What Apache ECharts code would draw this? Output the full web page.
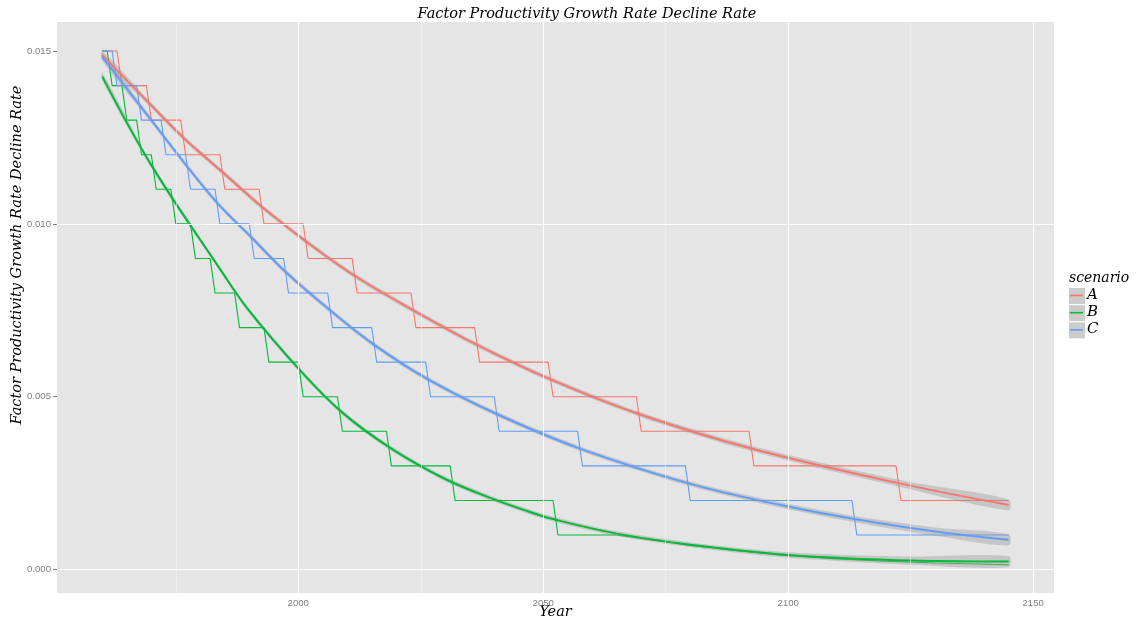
<!DOCTYPE html>
<html>
<head>
<meta charset="utf-8">
<script src="https://cdn.jsdelivr.net/npm/echarts@6/dist/echarts.min.js"></script>
<style>
html,body{margin:0;padding:0;background:#fff;}
#chart{width:1140px;height:623px;}
</style>
</head>
<body>
<div id="chart"></div>
<script>
// ---------------- DATA ----------------
const titleText = 'Factor Productivity Growth Rate Decline Rate';
const xTitle = 'Year';
const yTitle = 'Factor Productivity Growth Rate Decline Rate';
const legendTitle = 'scenario';
const scenarios = ['A', 'B', 'C'];

const xTicks = [2000, 2050, 2100, 2150];
const xMinor = [1975, 2025, 2075, 2125];
const yTicks = [0.000, 0.005, 0.010, 0.015];
const yMinor = [0.0025, 0.0075, 0.0125];

// step series: level values and the first year of each level
const levelsA = [0.015,0.014,0.013,0.012,0.011,0.010,0.009,0.008,0.007,0.006,0.005,0.004,0.003,0.002];
const startsA = [1960,1964,1970,1977,1985,1993,2002,2012,2024,2037,2052,2070,2093,2123];
const endA = 2145;

const levelsB = [0.015,0.014,0.013,0.012,0.011,0.010,0.009,0.008,0.007,0.006,0.005,0.004,0.003,0.002,0.001];
const startsB = [1960,1962,1965,1968,1971,1975,1979,1983,1988,1994,2001,2009,2019,2032,2053];
const endB = 2065;
const tailYearsB  = [2070,2080,2090,2100,2110,2120,2130,2145];
const tailValuesB = [0.0009,0.0007,0.00054,0.0004,0.00031,0.00024,0.00019,0.00014];

const levelsC = [0.015,0.014,0.013,0.012,0.011,0.010,0.009,0.008,0.007,0.006,0.005,0.004,0.003,0.002,0.001];
const startsC = [1960,1963,1968,1973,1978,1984,1991,1998,2007,2016,2027,2041,2058,2080,2114];
const endC = 2145;

// smoothed (loess) curves, read at points along each curve, with half-width of their confidence band
const smoothYearsA = [1960,1969.5,1976.5,1984.5,1992.5,2001.5,2011.5,2023.5,2036.5,2051.5,2069.5,2092.5,2122.5,2145];
const smoothA      = [0.01488,0.0135,0.0125,0.0115,0.0105,0.0095,0.0085,0.0075,0.0065,0.0055,0.0045,0.0035,0.0025,0.00187];
const bandA        = [0.00012,0.00008,0.00007,0.00007,0.00007,0.00007,0.00007,0.00007,0.00007,0.00007,0.00007,0.00008,0.0001,0.00016];

const smoothYearsB = [1960,1970,1984,1990,2000,2009,2019,2030,2040,2047,2052,2065,2081,2098,2110,2125,2145];
const smoothB      = [0.01426,0.0117,0.0087,0.00748,0.00582,0.00454,0.0035,0.00262,0.00203,0.00168,0.00146,0.00104,0.0007,0.00044,0.00034,0.00026,0.00023];
const bandB        = [0.00012,0.00008,0.00007,0.00007,0.00007,0.00007,0.00007,0.00007,0.00007,0.00007,0.00007,0.00007,0.00007,0.00008,0.00009,0.00012,0.00016];

const smoothYearsC = [1960,1970,1976.6,1983.5,1990.5,1997.5,2006.5,2015.5,2026.5,2040.5,2057.5,2079.5,2098,2113.5,2130,2145];
const smoothC      = [0.01483,0.013,0.01179,0.0106,0.0096,0.0086,0.0075,0.0065,0.0055,0.0045,0.0035,0.0025,0.00188,0.00146,0.0011,0.00086];
const bandC        = [0.00012,0.00008,0.00007,0.00007,0.00007,0.00007,0.00007,0.00007,0.00007,0.00007,0.00007,0.00007,0.00008,0.00009,0.00012,0.00016];

// ---------------- BUILD ----------------
const colors = ['#F8766D', '#00BA38', '#619CFF'];
const serif = '"DejaVu Serif", serif';
const sans = '"Liberation Sans", Arial, sans-serif';

function buildSteps(levels, starts, lastYear) {
  const pts = [];
  for (let i = 0; i < levels.length; i++) {
    const s = starts[i];
    const e = (i + 1 < starts.length) ? starts[i + 1] - 1 : lastYear;
    pts.push([s, levels[i]]);
    if (e !== s) pts.push([e, levels[i]]);
  }
  return pts;
}
const stepA = buildSteps(levelsA, startsA, endA);
const stepB = buildSteps(levelsB, startsB, endB).concat(tailYearsB.map((y, i) => [y, tailValuesB[i]]));
const stepC = buildSteps(levelsC, startsC, endC);
const steps = [stepA, stepB, stepC];
const smoothYears = [smoothYearsA, smoothYearsB, smoothYearsC];
const smooths = [smoothA, smoothB, smoothC];
const bands = [bandA, bandB, bandC];

const xMin = 1950.75, xMax = 2154.25;
const yMin = -0.000678, yMax = 0.01584;

const majorStyle = {color: '#FFFFFF', width: 1.1, type: 'solid'};
const minorStyle = {color: '#F2F2F2', width: 0.6, type: 'solid'};
const gridLines = []
  .concat(xMinor.map(v => ({xAxis: v, lineStyle: minorStyle})))
  .concat(yMinor.map(v => ({yAxis: v, lineStyle: minorStyle})))
  .concat(xTicks.filter(v => v <= xMax).map(v => ({xAxis: v, lineStyle: majorStyle})))
  .concat(yTicks.map(v => ({yAxis: v, lineStyle: majorStyle})));

const series = [{
  type: 'line', data: [], z: 1, silent: true,
  markLine: {silent: true, symbol: ['none', 'none'], label: {show: false}, animation: false, data: gridLines}
}];

scenarios.forEach((name, k) => {
  series.push({
    name: name, type: 'line', data: steps[k], z: 2, symbol: 'none', silent: true,
    lineStyle: {color: colors[k], width: 1.1}
  });
});

// confidence bands drawn through the axes' scales
series.push({
  type: 'custom', coordinateSystem: 'cartesian2d', z: 3, silent: true,
  data: scenarios.map((n, k) => [k]),
  renderItem: function (params, api) {
    const k = api.value(0);
    const ys = smoothYears[k];
    const upper = ys.map((y, i) => api.coord([y, smooths[k][i] + bands[k][i]]));
    const lower = ys.map((y, i) => api.coord([y, smooths[k][i] - bands[k][i]])).reverse();
    return {
      type: 'polygon',
      shape: {points: upper.concat(lower), smooth: 0.3},
      style: {fill: '#999999', opacity: 0.4}
    };
  }
});

scenarios.forEach((name, k) => {
  series.push({
    type: 'line', z: 4, symbol: 'none', smooth: 0.4, silent: true,
    data: smoothYears[k].map((y, i) => [y, smooths[k][i]]),
    lineStyle: {color: colors[k], width: 2}
  });
});

// legend drawn with graphic elements from the scenario list
const legendEls = [{
  type: 'text', left: 1069, top: 271,
  style: {text: legendTitle, font: 'italic 14px ' + serif, fill: '#000'}
}];
scenarios.forEach((name, k) => {
  const top = 287 + k * 17.2;
  legendEls.push({type: 'rect', left: 1068, top: top, shape: {width: 17, height: 17},
    style: {fill: '#CBCBCB', stroke: '#FFFFFF', lineWidth: 1}});
  legendEls.push({type: 'line', shape: {x1: 1070, y1: top + 8.5, x2: 1083, y2: top + 8.5},
    style: {stroke: colors[k], lineWidth: 1.6}});
  legendEls.push({type: 'text', left: 1087, top: top + 0.5,
    style: {text: name, font: 'italic 15px ' + serif, fill: '#000'}});
});
// axis titles
legendEls.push({
  type: 'text', x: 17, y: 255, rotation: Math.PI / 2,
  style: {text: yTitle, font: 'italic 14.5px ' + serif, fill: '#000', align: 'center', verticalAlign: 'middle'}
});
legendEls.push({
  type: 'text', x: 555.5, y: 612,
  style: {text: xTitle, font: 'italic 14.5px ' + serif, fill: '#000', align: 'center', verticalAlign: 'middle'}
});

const chart = echarts.init(document.getElementById('chart'), null, {renderer: 'canvas'});
chart.setOption({
  animation: false,
  backgroundColor: '#FFFFFF',
  title: {
    text: titleText, left: 582, top: 2, textAlign: 'center',
    textStyle: {fontFamily: serif, fontStyle: 'italic', fontWeight: 'normal', fontSize: 14.5, color: '#000'}
  },
  grid: {left: 57, right: 86, top: 22, bottom: 30, show: true, backgroundColor: '#E5E5E5', borderWidth: 0,
    containLabel: false, outerBoundsMode: 'none'},
  xAxis: {
    type: 'value', min: xMin, max: xMax,
    axisLine: {show: false},
    axisTick: {show: true, customValues: xTicks, length: 4, lineStyle: {color: '#7F7F7F', width: 1}},
    axisLabel: {customValues: xTicks, color: '#7F7F7F', fontFamily: sans, fontSize: 9.6, margin: 5,
      formatter: v => String(Math.round(v))},
    splitLine: {show: false}, minorSplitLine: {show: false}
  },
  yAxis: {
    type: 'value', min: yMin, max: yMax,
    axisLine: {show: false},
    axisTick: {show: true, customValues: yTicks, length: 4, lineStyle: {color: '#7F7F7F', width: 1}},
    axisLabel: {customValues: yTicks, color: '#7F7F7F', fontFamily: sans, fontSize: 9.6, margin: 6,
      formatter: v => Number(v).toFixed(3)},
    splitLine: {show: false}
  },
  graphic: legendEls,
  series: series
});
</script>
</body>
</html>
